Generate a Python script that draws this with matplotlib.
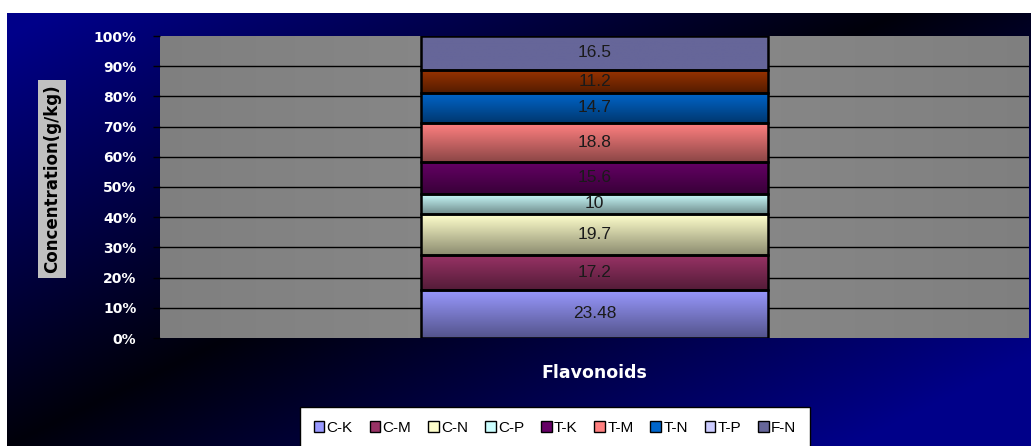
import matplotlib
matplotlib.use("Agg")
import matplotlib.pyplot as plt
import numpy as np
from matplotlib.colors import to_rgb
from matplotlib.patches import Patch

# data
series = ["C-K", "C-M", "C-N", "C-P", "T-K", "T-M", "T-N", "T-P", "F-N"]
values = [23.48, 17.2, 19.7, 10, 15.6, 18.8, 14.7, 11.2, 16.5]
labels = ["23.48", "17.2", "19.7", "10", "15.6", "18.8", "14.7", "11.2", "16.5"]
bar_colors = ["#9999FF", "#993366", "#FFFFCC", "#CCFFFF", "#660066",
              "#FF8080", "#0066CC", "#993300", "#666699"]
legend_colors = ["#9999FF", "#993366", "#FFFFCC", "#CCFFFF", "#660066",
                 "#FF8080", "#0066CC", "#CCCCFF", "#666699"]
category = "Flavonoids"
yticks = np.arange(0, 101, 10)

# darkening at the bottom of each segment (last one is flat)
shade = [0.55] * 8 + [1.0]

W, H = 1031, 446
fig = plt.figure(figsize=(W / 100, H / 100), dpi=100, facecolor="white")

# chart background: diagonal navy/black gradient
bg = fig.add_axes([7 / W, 0, (W - 7) / W, (H - 13) / H])
bg.set_axis_off()
u = np.linspace(0, 1, 300)[None, :]
v = np.linspace(0, 1, 150)[:, None]
f = np.clip(np.abs(u * 1.15 + v - 1.0) * 1.05, 0, 1)
img = np.zeros((150, 300, 3))
img[..., 2] = 0.04 + f * 0.5
bg.imshow(img, aspect="auto", extent=[0, 1, 0, 1], origin="upper")
bg.set_xlim(0, 1)
bg.set_ylim(0, 1)

# plot area, light in the middle
x0, x1, ytop, ybot = 160, 1029, 36, 338
ax = fig.add_axes([x0 / W, 1 - ybot / H, (x1 - x0) / W, (ybot - ytop) / H])
for s in ax.spines.values():
    s.set_visible(False)
gx = np.linspace(-1, 1, 200)
gray = 0.50 + 0.045 * (1 - np.abs(gx))
ax.imshow(np.repeat(gray[None, :, None], 3, axis=2), aspect="auto",
          extent=[-0.5, 0.5, 0, 100], zorder=0)

pct = np.array(values) / np.sum(values) * 100
bottoms = np.concatenate([[0], np.cumsum(pct)[:-1]])
bw = 0.4
for val, b, c, lab, k in zip(pct, bottoms, bar_colors, labels, shade):
    rgb = np.array(to_rgb(c))
    g = np.linspace(1.0, k, 50)[:, None] * rgb[None, :]
    g = g[:, None, :]
    ax.imshow(g, aspect="auto", extent=[-bw / 2, bw / 2, b, b + val],
              origin="upper", zorder=2)
    ax.bar(0, val, bottom=b, width=bw, facecolor="none", edgecolor="black",
           linewidth=1.8, zorder=3)
    ax.text(0, b + val / 2, lab, ha="center", va="center", fontsize=12.5,
            family="Liberation Sans", color="#1a1a1a", zorder=4)

ax.set_xlim(-0.5, 0.5)
ax.set_ylim(0, 100)
ax.set_yticks(yticks)
ax.set_yticklabels([f"{t}%" for t in yticks], color="white",
                   fontweight="bold", fontsize=10)
ax.tick_params(axis="y", length=5, width=1, color="black", pad=12)
ax.set_xticks([])
for t in yticks[1:-1]:
    ax.axhline(t, color="black", linewidth=1, zorder=1)

# axis titles
fig.text(52 / W, 1 - 179 / H, "Concentration(g/kg)", rotation=90,
         ha="center", va="center", fontsize=12, fontweight="bold",
         color="black",
         bbox=dict(boxstyle="square,pad=0.3", facecolor="#C0C0C0",
                   edgecolor="none"))
fig.text(594 / W, 1 - 373 / H, category, ha="center", va="center",
         fontsize=12.5, fontweight="bold", color="white")

# legend
handles = [Patch(facecolor=c, edgecolor="black", linewidth=1) for c in legend_colors]
leg = fig.legend(handles, series, ncol=9, loc="center",
                 bbox_to_anchor=(555 / W, 1 - 428 / H),
                 frameon=True, fancybox=False, framealpha=1,
                 handlelength=0.7, handleheight=0.7, handletextpad=0.15,
                 columnspacing=1.1, borderpad=0.9,
                 prop={"family": "Liberation Sans", "size": 11})
leg.get_frame().set_facecolor("white")
leg.get_frame().set_edgecolor("black")
leg.get_frame().set_linewidth(1)

fig.savefig("out.png", dpi=100, facecolor="white")
